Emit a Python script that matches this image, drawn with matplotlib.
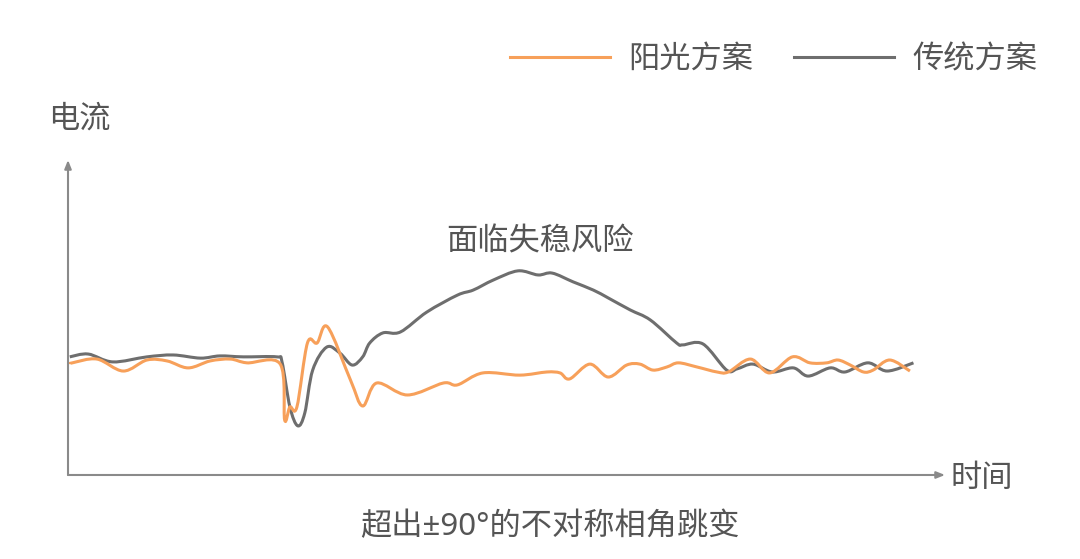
import numpy as np
import matplotlib
matplotlib.use("Agg")
import matplotlib.pyplot as plt
from matplotlib.path import Path
from matplotlib.patches import PathPatch
from matplotlib.lines import Line2D

plt.rcParams['font.family'] = ['Noto Sans CJK SC', 'DejaVu Sans']

# 阳光方案 (时间 0-100, 电流 0-100)
t_yg = np.array([0.2, 0.5, 3.3, 6.3, 9.0, 11.3, 13.7, 16.2, 18.5, 20.4, 24.2, 24.7, 25.3, 26.1,
                 27.3, 28.4, 29.6, 32.2, 33.6, 35.2, 38.7, 42.8, 44.4, 47.3, 51.5, 54.6, 56.1,
                 57.2, 59.5, 61.6, 63.7, 65.2, 66.7, 68.3, 69.6, 71.7, 74.0, 75.3, 77.8, 80.0,
                 82.6, 84.6, 86.5, 87.8, 89.2, 90.7, 91.8, 93.7, 96.0])
i_yg = np.array([35.2, 35.6, 36.8, 33.0, 36.5, 36.2, 34.0, 36.2, 36.8, 35.6, 35.2, 17.5, 21.6, 21.6,
                 41.9, 41.9, 47.0, 30.2, 21.9, 29.2, 25.4, 29.2, 28.6, 32.4, 31.7, 32.7, 32.4,
                 30.5, 35.2, 31.1, 34.9, 35.2, 33.3, 34.3, 35.6, 34.3, 32.7, 32.7, 36.8, 32.4,
                 37.5, 35.6, 35.6, 36.5, 34.9, 32.7, 33.3, 36.5, 33.0])

# 传统方案
t_ct = np.array([0.2, 2.3, 5.1, 9.0, 12.0, 15.1, 17.3, 20.0, 23.8, 24.4, 25.3, 26.2, 27.0, 27.9,
                 29.5, 31.0, 32.4, 33.6, 34.4, 35.9, 37.9, 40.9, 44.4, 46.2, 48.5, 51.3, 53.6,
                 55.2, 57.6, 59.9, 61.6, 64.1, 66.4, 69.4, 70.1, 72.4, 75.1, 76.3, 78.1, 80.3,
                 82.7, 84.4, 86.9, 88.6, 91.2, 93.4, 96.4])
i_ct = np.array([37.5, 38.4, 35.9, 37.5, 38.1, 37.1, 37.8, 37.5, 37.5, 35.9, 21.6, 15.6, 19.7, 33.3,
                 40.6, 38.7, 34.9, 37.5, 41.9, 45.1, 45.4, 51.7, 57.1, 58.7, 61.9, 64.8, 63.5,
                 64.1, 61.3, 58.7, 56.2, 52.4, 49.2, 41.9, 41.3, 41.6, 33.3, 33.7, 35.2, 32.7,
                 34.0, 31.4, 34.0, 32.7, 35.6, 33.0, 35.6])

orange = '#F7A05A'
gray = '#6E6E6E'
txt = '#555555'
fs = 22.5


def smooth_path(x, y):
    # courbe de Bezier passant par les points (Catmull-Rom)
    pts = np.column_stack([x, y])
    verts = [pts[0]]
    codes = [Path.MOVETO]
    n = len(pts)
    for k in range(n - 1):
        p0 = pts[max(k - 1, 0)]
        p1 = pts[k]
        p2 = pts[k + 1]
        p3 = pts[min(k + 2, n - 1)]
        c1 = p1 + (p2 - p0) / 6
        c2 = p2 - (p3 - p1) / 6
        verts += [c1, c2, p2]
        codes += [Path.CURVE4] * 3
    return Path(verts, codes)


fig = plt.figure(figsize=(10.8, 5.59), dpi=100)
ax = fig.add_axes([0, 0, 1, 1])
ax.set_xlim(-7.754, 115.39)
ax.set_ylim(-26.67, 150.79)
ax.axis('off')

ax.add_patch(PathPatch(smooth_path(t_ct, i_ct), fill=False, edgecolor=gray, lw=2.2,
                       joinstyle='round', zorder=2))
ax.add_patch(PathPatch(smooth_path(t_yg, i_yg), fill=False, edgecolor=orange, lw=2.2,
                       joinstyle='round', zorder=3))

# axes avec flèches
arrow = dict(arrowstyle='-|>,head_length=0.5,head_width=0.2', color='#8a8a8a', lw=1.5,
             shrinkA=0, shrinkB=0)
ax.annotate('', xy=(0, 100), xytext=(0, 0), arrowprops=arrow)
ax.annotate('', xy=(100, 0), xytext=(0, 0), arrowprops=arrow)

ax.text(1.3, 113, '电流', fontsize=fs, color=txt, ha='center', va='center')
ax.text(104.2, -1, '时间', fontsize=fs, color=txt, ha='center', va='center')
ax.text(53.8, 74.0, '面临失稳风险', fontsize=fs, color=txt, ha='center', va='center')
ax.text(55, -16.5, '超出±90°的不对称相角跳变', fontsize=fs, color=txt, ha='center', va='center',
        family=['Noto Sans', 'Noto Sans CJK SC'])

handles = [Line2D([], [], color=orange, lw=2.2), Line2D([], [], color=gray, lw=2.2)]
ax.legend(handles, ['阳光方案', '传统方案'], loc='center right',
          bbox_to_anchor=(1037 / 1080, 1 - 59 / 559), ncol=2,
          frameon=False, fontsize=fs, labelcolor=txt, handlelength=3.2,
          handletextpad=0.58, columnspacing=1.3, borderaxespad=0, borderpad=0)

fig.savefig('out.png', dpi=100, facecolor='white')
